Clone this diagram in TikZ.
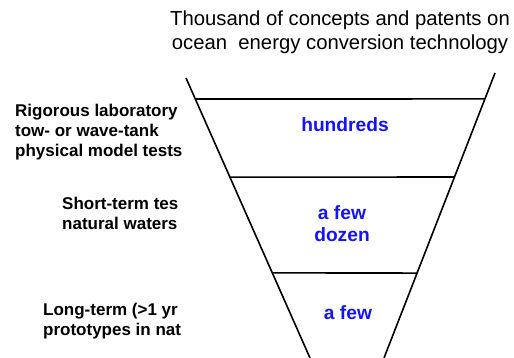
\documentclass[tikz,border=0pt]{standalone}
\usepackage{fontspec}
\setmainfont{Liberation Sans}
\usepackage{tikz}
\usetikzlibrary{calc,positioning}
\usepackage{xcolor}
\definecolor{countblue}{RGB}{20,20,245}
\newcommand{\countc}[1]{\textcolor{countblue}{#1}}

\begin{document}
\begin{tikzpicture}[x=1pt, y=-1pt, every node/.style={inner sep=0pt},
  stage/.style={font=\bfseries\fontsize{17}{20}\selectfont, align=left, anchor=west},
  count/.style={font=\bfseries\fontsize{19.2}{22}\selectfont, align=center, text=countblue},
  funnel/.style={line width=1.6pt}]
\useasboundingbox (0,0) rectangle (514,358);
% funnel walls
\coordinate (tl) at (186,78); \coordinate (bl) at (310,358);
\coordinate (tr) at (495,73); \coordinate (br) at (384,358);
\draw[funnel] (tl) -- (bl);
\draw[funnel] (tr) -- (br);
\foreach \n/\a/\b in {1/0.075/0.091, 2/0.354/0.365, 3/0.696/0.702} {\coordinate (l\n) at ($(tl)!\a!(bl)$); \coordinate (r\n) at ($(tr)!\b!(br)$); \draw[funnel] (l\n) -- (r\n);}
\node[font=\fontsize{20.3}{24}\selectfont, align=center] (title) at (340,32) {Thousand of concepts and patents on\\ocean\ \ energy conversion technology};
\node[count] (c1) at (345,125) {hundreds};
\node[count] (c2) at (342,224) {a few\\dozen};
\node[count] (c3) at (348,313) {a few};
\node[stage] (s1) at (15,132) {Rigorous laboratory\\tow- or wave-tank\\physical model tests};
\node[stage] (s2) at (62,213) {Short-term tes\\natural waters};
\node[stage] (s3) at (43,321) {Long-term (>1 yr\\prototypes in nat};
\end{tikzpicture}
\end{document}
